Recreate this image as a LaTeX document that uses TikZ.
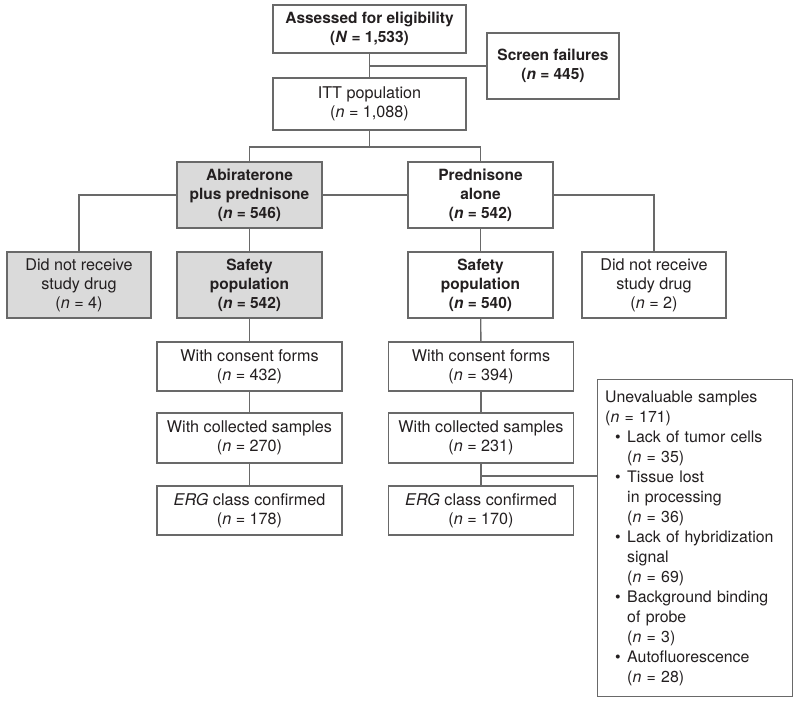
\documentclass[tikz,border=0pt]{standalone}
\usepackage{fontspec}
\setmainfont{TeX Gyre Heros}
\definecolor{linegray}{RGB}{105, 105, 105}
\definecolor{armgray}{RGB}{218, 218, 218}
\definecolor{textdark}{RGB}{35, 31, 32}
\usetikzlibrary{positioning, calc}

\newcommand{\nval}[1]{(\textit{n} = #1)}
\newcommand{\ubul}{\hspace*{0.25cm}\makebox[0.3cm][l]{\textbullet}}
\newcommand{\uind}{\hspace*{0.55cm}}

\begin{document}
\begin{tikzpicture}[x=0.025cm, y=-0.025cm,
  box/.style={draw=linegray, line width=1pt, fill=white, text=textdark, align=center, inner sep=0pt, font=\fontsize{11.5}{13.5}\selectfont},
  armbox/.style={box, fill=armgray},
  headtext/.style={font=\fontsize{11}{13.5}\selectfont\bfseries},
  link/.style={draw=linegray, line width=1pt}]
  \useasboundingbox (0,0) rectangle (800,707);

  % Enrollment
  \node[box, headtext, minimum width=4.825cm, minimum height=1.2cm] (assessed) at (369.5, 29) {Assessed for eligibility\\(\textit{N} = 1,533)};
  \node[box, minimum width=4.825cm, minimum height=1.3cm] (itt) at (369.5, 104) {ITT population\\\nval{1,088}};
  \node[box, headtext, minimum width=3.3cm, minimum height=1.65cm] (screen) at (553, 66) {Screen failures\\\nval{445}};

  % Arms
  \node[armbox, headtext, minimum width=3.625cm, minimum height=1.65cm] (abir) at (249.5, 195) {Abiraterone\\plus prednisone\\\nval{546}};
  \node[box, headtext, minimum width=3.625cm, minimum height=1.65cm] (pred) at (480.5, 195) {Prednisone\\alone\\\nval{542}};

  % Safety
  \node[armbox, minimum width=3.6cm, minimum height=1.65cm] (nrl) at (79, 285) {Did not receive\\study drug\\\nval{4}};
  \node[armbox, headtext, minimum width=3.625cm, minimum height=1.65cm] (safl) at (249.5, 285) {Safety\\population\\\nval{542}};
  \node[box, headtext, minimum width=3.625cm, minimum height=1.65cm] (safr) at (480.5, 285) {Safety\\population\\\nval{540}};
  \node[box, minimum width=3.6cm, minimum height=1.65cm] (nrr) at (654, 285) {Did not receive\\study drug\\\nval{2}};

  % Samples, left arm
  \node[box, minimum width=4.625cm, minimum height=1.225cm] (consl) at (249.5, 366.5) {With consent forms\\\nval{432}};
  \node[box, minimum width=4.625cm, minimum height=1.25cm] (colll) at (249.5, 438) {With collected samples\\\nval{270}};
  \node[box, minimum width=4.625cm, minimum height=1.225cm] (ergl) at (249.5, 510.5) {\textit{ERG} class confirmed\\\nval{178}};

  % Samples, right arm
  \node[box, minimum width=4.625cm, minimum height=1.225cm] (consr) at (481, 366.5) {With consent forms\\\nval{394}};
  \node[box, minimum width=4.625cm, minimum height=1.25cm] (collr) at (481, 438) {With collected samples\\\nval{231}};
  \node[box, minimum width=4.625cm, minimum height=1.225cm] (ergr) at (481, 510.5) {\textit{ERG} class confirmed\\\nval{170}};

  % Unevaluable
  \node[box, anchor=north west, align=left, text width=4.5cm, minimum width=4.875cm, minimum height=7.925cm, font=\fontsize{11.3}{14.2}\selectfont] (uneval) at (597, 379) {%
    Unevaluable samples\\
    \nval{171}\\
    \ubul Lack of tumor cells\\
    \uind\nval{35}\\
    \ubul Tissue lost\\
    \uind in processing\\
    \uind\nval{36}\\
    \ubul Lack of hybridization\\
    \uind signal\\
    \uind\nval{69}\\
    \ubul Background binding\\
    \uind of probe\\
    \uind\nval{3}\\
    \ubul Autofluorescence\\
    \uind\nval{28}};

  % Connectors
  \coordinate (jscreen) at (assessed.south |- screen.west);
  \coordinate (jsplit) at (369.5, 147);
  \coordinate (juneval) at (481, 476);
  \draw[link] (assessed) -- (itt);
  \draw[link] (jscreen) -- (screen.west);
  \draw[link] (itt) -- (jsplit);
  \draw[link] (abir.north) -- (abir.north |- jsplit) -- (pred.north |- jsplit) -- (pred.north);
  \draw[link] (abir.west) -| (nrl.north);
  \draw[link] (abir.east) -- (pred.west);
  \draw[link] (pred.east) -| (nrr.north);
  \draw[link] (abir) -- (safl);
  \draw[link] (pred) -- (safr);
  \draw[link] (safl) -- (consl);
  \draw[link] (consl) -- (colll);
  \draw[link] (colll) -- (ergl);
  \draw[link] (safr) -- (consr);
  \draw[link] (consr) -- (collr);
  \draw[link] (collr) -- (ergr);
  \draw[link] (juneval) -- (juneval -| uneval.west);
\end{tikzpicture}
\end{document}
